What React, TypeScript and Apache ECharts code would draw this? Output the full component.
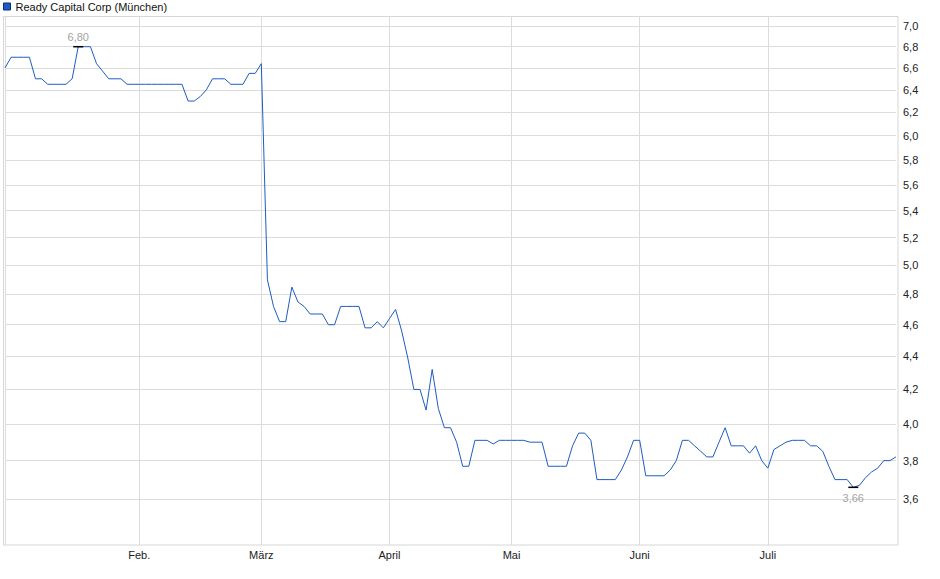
import React, { useEffect, useRef } from "react";
import * as echarts from "echarts";

const seriesName = "Ready Capital Corp (München)";

// trading days of the Munich exchange, Jan 2 - Jul 30 2025
const firstDay = "2025-01-02";
const lastDay = "2025-07-30";
const holidays = ["2025-01-01", "2025-04-18", "2025-04-21", "2025-05-01"];

const monthStarts = ["2025-02-03", "2025-03-03", "2025-04-01", "2025-05-02", "2025-06-02", "2025-07-01"];
const monthLabels = ["Feb.", "März", "April", "Mai", "Juni", "Juli"];

// closing prices in EUR, one per trading day
const prices = [
    6.6, 6.7, 6.7, 6.7, 6.7, 6.5, 6.5, 6.45, 6.45, 6.45,
    6.45, 6.5, 6.8, 6.8, 6.8, 6.64, 6.57, 6.5, 6.5, 6.5,
    6.45, 6.45, 6.45, 6.45, 6.45, 6.45, 6.45, 6.45, 6.45, 6.45,
    6.3, 6.3, 6.34, 6.4, 6.5, 6.5, 6.5, 6.45, 6.45, 6.45,
    6.55, 6.55, 6.64, 4.9, 4.72, 4.62, 4.62, 4.85, 4.75, 4.72,
    4.67, 4.67, 4.67, 4.6, 4.6, 4.72, 4.72, 4.72, 4.72, 4.58,
    4.58, 4.62, 4.58, 4.64, 4.7, 4.56, 4.39, 4.2, 4.2, 4.08,
    4.32, 4.09, 3.98, 3.98, 3.9, 3.77, 3.77, 3.91, 3.91, 3.91,
    3.89, 3.91, 3.91, 3.91, 3.91, 3.91, 3.9, 3.9, 3.9, 3.77,
    3.77, 3.77, 3.77, 3.88, 3.95, 3.95, 3.91, 3.7, 3.7, 3.7,
    3.7, 3.75, 3.82, 3.91, 3.91, 3.72, 3.72, 3.72, 3.72, 3.75,
    3.8, 3.91, 3.91, 3.88, 3.85, 3.82, 3.82, 3.9, 3.98, 3.88,
    3.88, 3.88, 3.84, 3.88, 3.8, 3.76, 3.86, 3.88, 3.9, 3.91,
    3.91, 3.91, 3.88, 3.88, 3.85, 3.77, 3.7, 3.7, 3.7, 3.66,
    3.67, 3.71, 3.74, 3.76, 3.8, 3.8, 3.82,
];

// log scale price axis
const yTicks = [3.6, 3.8, 4.0, 4.2, 4.4, 4.6, 4.8, 5.0, 5.2, 5.4, 5.6, 5.8, 6.0, 6.2, 6.4, 6.6, 6.8, 7.0];
const yMin = 3.375;
const yMax = 7.1;

const FONT = "Arial, 'Liberation Sans', sans-serif";

function tradingDays(from: string, to: string, skip: string[]): string[] {
    const out: string[] = [];
    const d = new Date(from + "T00:00:00Z");
    const end = new Date(to + "T00:00:00Z");
    while (d <= end) {
        const s = d.toISOString().slice(0, 10);
        const wd = d.getUTCDay();
        if (wd !== 0 && wd !== 6 && skip.indexOf(s) < 0) out.push(s);
        d.setUTCDate(d.getUTCDate() + 1);
    }
    return out;
}

const fmt = (v: number, digits: number) => Math.exp(v).toFixed(digits).replace(".", ",");

const App: React.FC = () => {
    const ref = useRef<HTMLDivElement | null>(null);

    useEffect(() => {
        if (!ref.current) return;
        const chart = echarts.init(ref.current, undefined, { renderer: "svg" });

        const dates = tradingDays(firstDay, lastDay, holidays);
        const logTicks = yTicks.map((t) => Math.log(t));

        const option: echarts.EChartsOption = {
            animation: false,
            textStyle: { fontFamily: FONT },
            legend: {
                data: [seriesName],
                left: 0,
                top: 0,
                padding: [1, 3],
                icon: "rect",
                itemWidth: 7,
                itemHeight: 7,
                itemStyle: { borderColor: "#0d2f73", borderWidth: 1 },
                textStyle: { fontSize: 11, color: "#111", fontFamily: FONT },
            },
            grid: { left: 5, right: 44, top: 16, bottom: 34 },
            xAxis: {
                type: "category",
                data: dates,
                boundaryGap: false,
                axisLine: { show: false },
                axisTick: { show: false },
                axisLabel: {
                    interval: (_i: number, v: string) => monthStarts.indexOf(v) >= 0,
                    formatter: (v: string) => monthLabels[monthStarts.indexOf(v)] ?? "",
                    color: "#222",
                    fontSize: 11,
                    fontFamily: FONT,
                    margin: 4,
                },
                splitLine: {
                    show: true,
                    interval: (i: number, v: string) => i === 0 || monthStarts.indexOf(v) >= 0,
                    lineStyle: { color: "#dcdcdc", width: 1 },
                },
            },
            yAxis: {
                type: "value",
                position: "right",
                min: Math.log(yMin),
                max: Math.log(yMax),
                axisLine: { show: false },
                axisTick: { show: false, customValues: logTicks },
                axisLabel: {
                    customValues: logTicks,
                    formatter: (v: number) => fmt(v, 1),
                    color: "#222",
                    fontSize: 11,
                    fontFamily: FONT,
                    margin: 7,
                },
                splitLine: { show: true, lineStyle: { color: "#dcdcdc", width: 1 } },
            },
            graphic: [
                {
                    type: "rect",
                    shape: { x: 3.5, y: 16.5, width: 894.5, height: 528.5 },
                    style: { fill: "none", stroke: "#d6d6d6", lineWidth: 1 },
                    silent: true,
                },
            ],
            series: [
                {
                    name: seriesName,
                    type: "line",
                    data: prices.map((p) => Math.log(p)),
                    showSymbol: false,
                    symbol: "none",
                    color: "#1d5cc4",
                    lineStyle: { color: "#1d5cc4", width: 1 },
                    markPoint: {
                        symbol: "rect",
                        symbolSize: [10, 1.5],
                        itemStyle: { color: "#000" },
                        label: {
                            show: true,
                            color: "#a3a3a3",
                            fontSize: 11,
                            fontFamily: FONT,
                            formatter: (p: any) => fmt(p.value, 2),
                        },
                        data: [
                            { type: "max", label: { position: "top", distance: 3 } },
                            { type: "min", label: { position: "bottom", distance: 4 } },
                        ],
                    },
                },
            ],
        };

        chart.setOption(option);
        return () => chart.dispose();
    }, []);

    return <div ref={ref} style={{ position: "absolute", left: 0, top: 0, width: 940, height: 579 }} />;
};

export default App;
